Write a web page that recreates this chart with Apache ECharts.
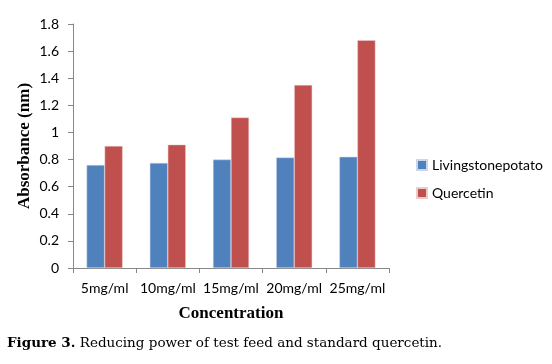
<!DOCTYPE html>
<html><head><meta charset="utf-8">
<script src="https://cdn.jsdelivr.net/npm/echarts@6/dist/echarts.min.js"></script>
<style>html,body{margin:0;padding:0;background:#fff}#c{width:552px;height:364px}</style>
</head><body><div id="c"></div>
<script>
var categories = ['5mg/ml','10mg/ml','15mg/ml','20mg/ml','25mg/ml'];
var livingstone = [0.76, 0.775, 0.80, 0.815, 0.82];
var quercetin = [0.90, 0.91, 1.11, 1.35, 1.68];
var seriesNames = ['Livingstonepotato','Quercetin'];
var chart = echarts.init(document.getElementById('c'));
var lab = {fontFamily:'Lato', fontSize:14, color:'#000'};
var titleFont = {fontFamily:'Liberation Serif', fontWeight:'bold', fontSize:17, color:'#000'};
chart.setOption({
  animation:false,
  grid:{left:73, top:24, width:316, height:244},
  legend:{
    orient:'vertical', left:411, top:153, itemWidth:10, itemHeight:10, itemGap:14,
    icon:'rect', textStyle:{fontFamily:'Lato', fontSize:14, color:'#000'},
    data:seriesNames
  },
  xAxis:{
    type:'category', data:categories,
    axisLine:{lineStyle:{color:'#888'}},
    axisTick:{show:true, interval:0, length:5, lineStyle:{color:'#888'}},
    axisLabel:Object.assign({margin:13, interval:0}, lab),
    name:'Concentration', nameLocation:'middle', nameGap:37, nameMoveOverlap:false,
    nameTextStyle:titleFont
  },
  yAxis:{
    type:'value', min:0, max:1.8, interval:0.2,
    axisLine:{show:true, lineStyle:{color:'#888'}},
    axisTick:{show:true, length:5, lineStyle:{color:'#888'}},
    splitLine:{show:false},
    axisLabel:Object.assign({margin:14, formatter:function(v){return String(Math.round(v*10)/10);}}, lab),
    name:'Absorbance (nm)', nameLocation:'middle', nameGap:40, nameRotate:90, nameMoveOverlap:false,
    nameTextStyle:titleFont
  },
  series:[
    {name:seriesNames[0], type:'bar', data:livingstone, barWidth:18, barGap:'0%',
     itemStyle:{color:'#4F81BD', borderColor:'#c9d6ea', borderWidth:0.5}},
    {name:seriesNames[1], type:'bar', data:quercetin, barWidth:18, barGap:'0%',
     itemStyle:{color:'#C0504D', borderColor:'#eccaca', borderWidth:0.5}}
  ],
  graphic:[{
    type:'text', left:7, top:336,
    style:{
      text:'{b|Figure 3.} Reducing power of test feed and standard quercetin.',
      rich:{b:{fontFamily:'DejaVu Serif', fontWeight:'bold', fontSize:13.5, fill:'#000'}},
      fontFamily:'DejaVu Serif', fontSize:13.5, fill:'#000'
    }
  }]
});
</script></body></html>
